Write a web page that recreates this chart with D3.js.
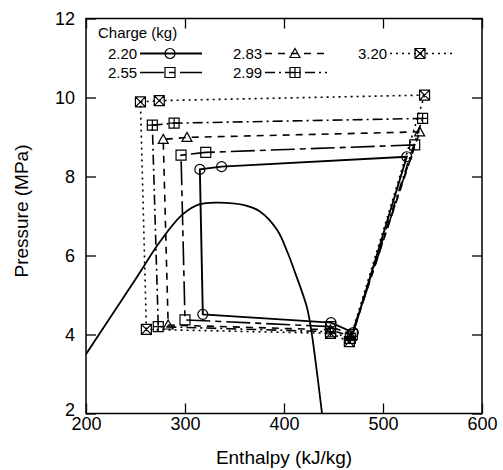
<!DOCTYPE html>
<html lang="en">
<head>
    <meta charset="UTF-8">
    <title>Pressure - Enthalpy</title>
    <script src="https://d3js.org/d3.v7.min.js"></script>
    <style>
        body { margin: 0; background: #fff; }
        text { font-family: "Liberation Sans", Arial, sans-serif; fill: #000; }
        .axis path { display: none; }
        .axis line { stroke: #000; stroke-width: 1.3; }
        .axis text { font-size: 18px; }
        .axis-title { font-size: 19px; }
        .legend text { font-size: 15px; }
    </style>
</head>
<body>
    <svg width="503" height="470"></svg>
    <script>
        // charges (kg) and the cycle points
        // point order: compressor out, IHX hot, gas cooler out, after valve, evaporator out, compressor in
        const charges = ["2.20", "2.55", "2.83", "2.99", "3.20"];
        const h220 = [524, 337, 315, 318, 447.5, 470];
        const p220 = [8.50, 8.25, 8.18, 4.51, 4.30, 4.05];
        const h255 = [532, 321, 296, 300, 447, 469];
        const p255 = [8.80, 8.61, 8.54, 4.37, 4.20, 4.00];
        const h283 = [537, 302, 278, 283, 447, 468];
        const p283 = [9.13, 8.99, 8.94, 4.24, 4.12, 3.95];
        const h299 = [540, 289, 267, 273, 447, 467];
        const p299 = [9.47, 9.35, 9.30, 4.20, 4.07, 3.90];
        const h320 = [542, 274, 255, 261, 447, 466];
        const p320 = [10.06, 9.92, 9.89, 4.13, 4.03, 3.82];

        // saturation dome
        const domeH = [200, 249.5, 275, 297, 315, 334, 359, 376, 393, 404, 411, 423, 428, 433.5, 438.4];
        const domeP = [3.50, 5.38, 6.36, 7.03, 7.30, 7.34, 7.28, 7.11, 6.65, 6.05, 5.58, 4.70, 4.03, 3.00, 2.00];

        const xTicks = [200, 300, 400, 500, 600];
        const yTicks = [2, 4, 6, 8, 10, 12];

        const pSeries = [p220, p255, p283, p299, p320];
        const cycles = [h220, h255, h283, h299, h320].map((hs, i) => ({
            charge: charges[i],
            pts: hs.map((h, j) => ({ h: h, p: pSeries[i][j] }))
        }));

        // line + marker styles per charge
        const dashes = [null, "24,5,6,5", "7,6", "10,4,2,4", "2,4"];
        const markers = ["circle", "square", "triangle", "psquare", "xsquare"];

        const margin = {top: 18.5, right: 21, bottom: 56.5, left: 86},
              width = 503 - margin.left - margin.right,
              height = 470 - margin.top - margin.bottom;

        const x = d3.scaleLinear().domain([200, 600]).range([0, width]);
        const y = d3.scaleLinear().domain([2, 12]).range([height, 0]);

        const svg = d3.select("svg")
          .append("g")
            .attr("transform", "translate(" + margin.left + "," + margin.top + ")");

        svg.append("clipPath").attr("id", "clip")
          .append("rect").attr("width", width).attr("height", height);

        // marker shapes
        function markerPath(type, s) {
            const sq = `M${-s},${-s}h${2 * s}v${2 * s}h${-2 * s}Z`;
            if (type === "circle") {
                const p = d3.path();
                p.moveTo(s, 0);
                p.arc(0, 0, s, 0, 2 * Math.PI);
                return p.toString();
            }
            if (type === "square") return sq;
            if (type === "triangle") return `M0,${-s}L${s},${s * 0.8}L${-s},${s * 0.8}Z`;
            if (type === "xsquare") return sq + `M${-s},${-s}L${s},${s}M${s},${-s}L${-s},${s}`;
            return sq + `M0,${-s}V${s}M${-s},0H${s}`;
        }

        // dome
        const domeLine = d3.line()
            .x(d => x(d[0]))
            .y(d => y(d[1]))
            .curve(d3.curveCatmullRom.alpha(0.5));

        svg.append("path")
            .datum(domeH.map((h, i) => [h, domeP[i]]))
            .attr("clip-path", "url(#clip)")
            .attr("fill", "none")
            .attr("stroke", "#000")
            .attr("stroke-width", 1.8)
            .attr("d", domeLine);

        // cycles
        const cycleLine = d3.line()
            .x(d => x(d.h))
            .y(d => y(d.p))
            .curve(d3.curveLinearClosed);

        cycles.forEach((c, i) => {
            svg.append("path")
                .datum(c.pts)
                .attr("fill", "none")
                .attr("stroke", "#000")
                .attr("stroke-width", i === 0 ? 1.9 : 1.6)
                .attr("stroke-dasharray", dashes[i])
                .attr("d", cycleLine);

            svg.append("g")
                .selectAll("path")
                .data(c.pts)
                .enter().append("path")
                .attr("transform", d => "translate(" + x(d.h) + "," + y(d.p) + ")")
                .attr("d", markerPath(markers[i], 5))
                .attr("fill", "none")
                .attr("stroke", "#000")
                .attr("stroke-width", 1.2);
        });

        // axes with inward ticks
        svg.append("g")
            .attr("class", "axis")
            .attr("transform", "translate(0," + height + ")")
            .call(d3.axisBottom(x).tickValues(xTicks).tickSize(-10).tickPadding(4));

        svg.append("g")
            .attr("class", "axis")
            .call(d3.axisTop(x).tickValues(xTicks).tickSize(-10).tickFormat(""));

        const yAxis = svg.append("g")
            .attr("class", "axis")
            .call(d3.axisLeft(y).tickValues(yTicks).tickSize(-10).tickPadding(11));
        // lift the bottom label a little so it clears "200"
        yAxis.selectAll(".tick text").filter(d => d === 2).attr("dy", "0.1em");

        svg.append("g")
            .attr("class", "axis")
            .attr("transform", "translate(" + width + ",0)")
            .call(d3.axisRight(y).tickValues(yTicks).tickSize(-10).tickFormat(""));

        // frame
        svg.append("rect")
            .attr("width", width)
            .attr("height", height)
            .attr("fill", "none")
            .attr("stroke", "#000")
            .attr("stroke-width", 1.5);

        // axis titles
        svg.append("text")
            .attr("class", "axis-title")
            .attr("x", width / 2)
            .attr("y", height + 50)
            .attr("text-anchor", "middle")
            .text("Enthalpy (kJ/kg)");

        svg.append("text")
            .attr("class", "axis-title")
            .attr("transform", "translate(" + (28 - margin.left) + "," + (height / 2 - 5) + ") rotate(-90)")
            .attr("text-anchor", "middle")
            .text("Pressure (MPa)");

        // legend
        const legend = svg.append("g").attr("class", "legend");
        legend.append("text")
            .attr("x", 12)
            .attr("y", 19)
            .text("Charge (kg)");

        charges.forEach((c, i) => {
            const lx = 22 + Math.floor(i / 2) * 125,
                  ly = 35 + (i % 2) * 19;
            const g = legend.append("g").attr("transform", "translate(" + lx + "," + ly + ")");
            g.append("text").attr("x", 0).attr("y", 5).text(c);
            g.append("line")
                .attr("x1", 32).attr("x2", 94)
                .attr("stroke", "#000")
                .attr("stroke-width", i === 0 ? 1.9 : 1.6)
                .attr("stroke-dasharray", dashes[i]);
            g.append("path")
                .attr("transform", "translate(62,0)")
                .attr("d", markerPath(markers[i], 5))
                .attr("fill", "none")
                .attr("stroke", "#000")
                .attr("stroke-width", 1.2);
        });
    </script>
</body>
</html>
